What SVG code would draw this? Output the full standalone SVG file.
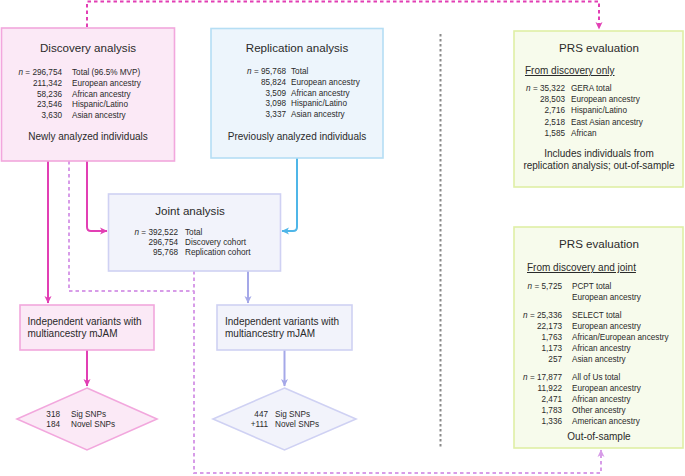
<svg xmlns="http://www.w3.org/2000/svg" width="685" height="476" viewBox="0 0 685 476">
<style>
text{font-family:"Liberation Sans",Arial,sans-serif;fill:#2a2a2a}
.t{font-size:11.6px;text-anchor:middle}
.d{font-size:8.2px}
.r{text-anchor:end}
.m{font-size:10px;text-anchor:middle}
.s{font-size:10px}
.u{font-size:10px;text-decoration:underline}
.i{font-style:italic}
.pink{fill:#fbe9f6;stroke:#f2a7dd;stroke-width:1.6}
.blue{fill:#edf5fc;stroke:#b5def4;stroke-width:1.6}
.lav{fill:#f2f3fb;stroke:#cfd1f3;stroke-width:1.6}
.grn{fill:#f7fbec;stroke:#dfefa6;stroke-width:1.6}
.c{fill:none;stroke-width:2}
</style>
<defs>
<marker id="am" markerUnits="userSpaceOnUse" markerWidth="8" markerHeight="8" refX="7" refY="4" orient="auto"><path d="M0,0.5 L7.5,4 L0,7.5 L2,4 z" fill="#e23fb4"/></marker>
<marker id="ab" markerUnits="userSpaceOnUse" markerWidth="8" markerHeight="8" refX="7" refY="4" orient="auto"><path d="M0,0.5 L7.5,4 L0,7.5 L2,4 z" fill="#4fb6e8"/></marker>
<marker id="al" markerUnits="userSpaceOnUse" markerWidth="8" markerHeight="8" refX="7" refY="4" orient="auto"><path d="M0,0.5 L7.5,4 L0,7.5 L2,4 z" fill="#a5a8e8"/></marker>
<marker id="av" markerUnits="userSpaceOnUse" markerWidth="8" markerHeight="8" refX="7" refY="4" orient="auto"><path d="M0,0.5 L7.5,4 L0,7.5 L2,4 z" fill="#d79ce8"/></marker>
</defs>

<g id="connectors">
<path class="c" d="M87,27 V1.5 H599 V29" stroke="#e23fb4" stroke-dasharray="3.5 3" marker-end="url(#am)"/>
<path class="c" d="M48,161 V303" stroke="#e23fb4" marker-end="url(#am)"/>
<path class="c" d="M87,161 V227 Q87,231 91,231 H107" stroke="#e23fb4" marker-end="url(#am)"/>
<path class="c" d="M69,161 V291 H194" stroke="#d79ce8" stroke-width="1.7" stroke-dasharray="3.5 3"/>
<path class="c" d="M194,271 V473 H601 V450" stroke="#d79ce8" stroke-width="1.7" stroke-dasharray="3.5 3" marker-end="url(#av)"/>
<path class="c" d="M297,158 V227 Q297,231 293,231 H282" stroke="#4fb6e8" marker-end="url(#ab)"/>
<path class="c" d="M248,271 V303" stroke="#a5a8e8" marker-end="url(#al)"/>
<path class="c" d="M87,350 V386" stroke="#e23fb4" marker-end="url(#am)"/>
<path class="c" d="M284.5,350 V386" stroke="#a5a8e8" marker-end="url(#al)"/>
<path d="M440.5,34 V449" stroke="#8a8a8a" stroke-width="2" stroke-dasharray="2.5 2.5" fill="none"/>
</g>

<g id="discovery">
<rect class="pink" x="1.5" y="28" width="173" height="133"/>
<text class="t" x="88" y="52">Discovery analysis</text>
<text class="d r" x="62" y="75"><tspan class="i">n</tspan> = 296,754</text>
<text class="d r" x="62" y="85.75">211,342</text>
<text class="d r" x="62" y="96.5">58,236</text>
<text class="d r" x="62" y="107.25">23,546</text>
<text class="d r" x="62" y="118">3,630</text>
<text class="d" x="72" y="75">Total (96.5% MVP)</text>
<text class="d" x="72" y="85.75">European ancestry</text>
<text class="d" x="72" y="96.5">African ancestry</text>
<text class="d" x="72" y="107.25">Hispanic/Latino</text>
<text class="d" x="72" y="118">Asian ancestry</text>
<text class="m" x="88" y="140">Newly analyzed individuals</text>
</g>

<g id="replication">
<rect class="blue" x="211" y="28.5" width="172" height="129.5"/>
<text class="t" x="297" y="52">Replication analysis</text>
<text class="d r" x="286" y="74"><tspan class="i">n</tspan> = 95,768</text>
<text class="d r" x="286" y="84.75">85,824</text>
<text class="d r" x="286" y="95.5">3,509</text>
<text class="d r" x="286" y="106.25">3,098</text>
<text class="d r" x="286" y="117">3,337</text>
<text class="d" x="291" y="74">Total</text>
<text class="d" x="291" y="84.75">European ancestry</text>
<text class="d" x="291" y="95.5">African ancestry</text>
<text class="d" x="291" y="106.25">Hispanic/Latino</text>
<text class="d" x="291" y="117">Asian ancestry</text>
<text class="m" x="297" y="140">Previously analyzed individuals</text>
</g>

<g id="prs-discovery">
<rect class="grn" x="514" y="31" width="169" height="156"/>
<text class="t" x="599" y="52">PRS evaluation</text>
<text class="u" x="525" y="74">From discovery only</text>
<text class="d r" x="565" y="91"><tspan class="i">n</tspan> = 35,322</text>
<text class="d r" x="565" y="102.2">28,503</text>
<text class="d r" x="565" y="113.4">2,716</text>
<text class="d r" x="565" y="124.6">2,518</text>
<text class="d r" x="565" y="135.8">1,585</text>
<text class="d" x="571" y="91">GERA total</text>
<text class="d" x="571" y="102.2">European ancestry</text>
<text class="d" x="571" y="113.4">Hispanic/Latino</text>
<text class="d" x="571" y="124.6">East Asian ancestry</text>
<text class="d" x="571" y="135.8">African</text>
<text class="m" x="599" y="157">Includes individuals from</text>
<text class="m" x="599" y="169">replication analysis; out-of-sample</text>
</g>

<g id="joint">
<rect class="lav" x="108.5" y="194" width="172" height="77"/>
<text class="t" x="190" y="215">Joint analysis</text>
<text class="d r" x="178" y="234.5"><tspan class="i">n</tspan> = 392,522</text>
<text class="d r" x="178" y="244.8">296,754</text>
<text class="d r" x="178" y="255.1">95,768</text>
<text class="d" x="185" y="234.5">Total</text>
<text class="d" x="185" y="244.8">Discovery cohort</text>
<text class="d" x="185" y="255.1">Replication cohort</text>
</g>

<g id="prs-joint">
<rect class="grn" x="514" y="227" width="169" height="221"/>
<text class="t" x="599" y="247.5">PRS evaluation</text>
<text class="u" x="527" y="271">From discovery and joint</text>
<text class="d r" x="562" y="289"><tspan class="i">n</tspan> =  5,725</text>
<text class="d" x="572" y="289">PCPT total</text>
<text class="d" x="572" y="300">European ancestry</text>
<text class="d r" x="562" y="318"><tspan class="i">n</tspan> = 25,336</text>
<text class="d r" x="562" y="329">22,173</text>
<text class="d r" x="562" y="340">1,763</text>
<text class="d r" x="562" y="351">1,173</text>
<text class="d r" x="562" y="362">257</text>
<text class="d" x="572" y="318">SELECT total</text>
<text class="d" x="572" y="329">European ancestry</text>
<text class="d" x="572" y="340">African/European ancestry</text>
<text class="d" x="572" y="351">African ancestry</text>
<text class="d" x="572" y="362">Asian ancestry</text>
<text class="d r" x="562" y="379.5"><tspan class="i">n</tspan> = 17,877</text>
<text class="d r" x="562" y="390.5">11,922</text>
<text class="d r" x="562" y="401.5">2,471</text>
<text class="d r" x="562" y="412.5">1,783</text>
<text class="d r" x="562" y="423.5">1,336</text>
<text class="d" x="572" y="379.5">All of Us total</text>
<text class="d" x="572" y="390.5">European ancestry</text>
<text class="d" x="572" y="401.5">African ancestry</text>
<text class="d" x="572" y="412.5">Other ancestry</text>
<text class="d" x="572" y="423.5">American ancestry</text>
<text class="m" x="599" y="439.5">Out-of-sample</text>
</g>

<g id="indep-discovery">
<rect class="pink" x="20" y="305" width="134" height="45"/>
<text class="s" x="27.5" y="325">Independent variants with</text>
<text class="s" x="27.5" y="336.5">multiancestry mJAM</text>
</g>

<g id="indep-joint">
<rect class="lav" x="217" y="305" width="135" height="45"/>
<text class="s" x="225" y="325">Independent variants with</text>
<text class="s" x="225" y="336.5">multiancestry mJAM</text>
</g>

<g id="snps-discovery">
<polygon class="pink" points="87,388 157,419 87,450 17,419"/>
<text class="d r" x="60" y="417">318</text>
<text class="d r" x="60" y="426.5">184</text>
<text class="d" x="71" y="417">Sig SNPs</text>
<text class="d" x="71" y="426.5">Novel SNPs</text>
</g>

<g id="snps-joint">
<polygon class="lav" points="284.5,388 356,419 284.5,450 213,419"/>
<text class="d r" x="268" y="417">447</text>
<text class="d r" x="268" y="426.5">+111</text>
<text class="d" x="275" y="417">Sig SNPs</text>
<text class="d" x="275" y="426.5">Novel SNPs</text>
</g>
</svg>
